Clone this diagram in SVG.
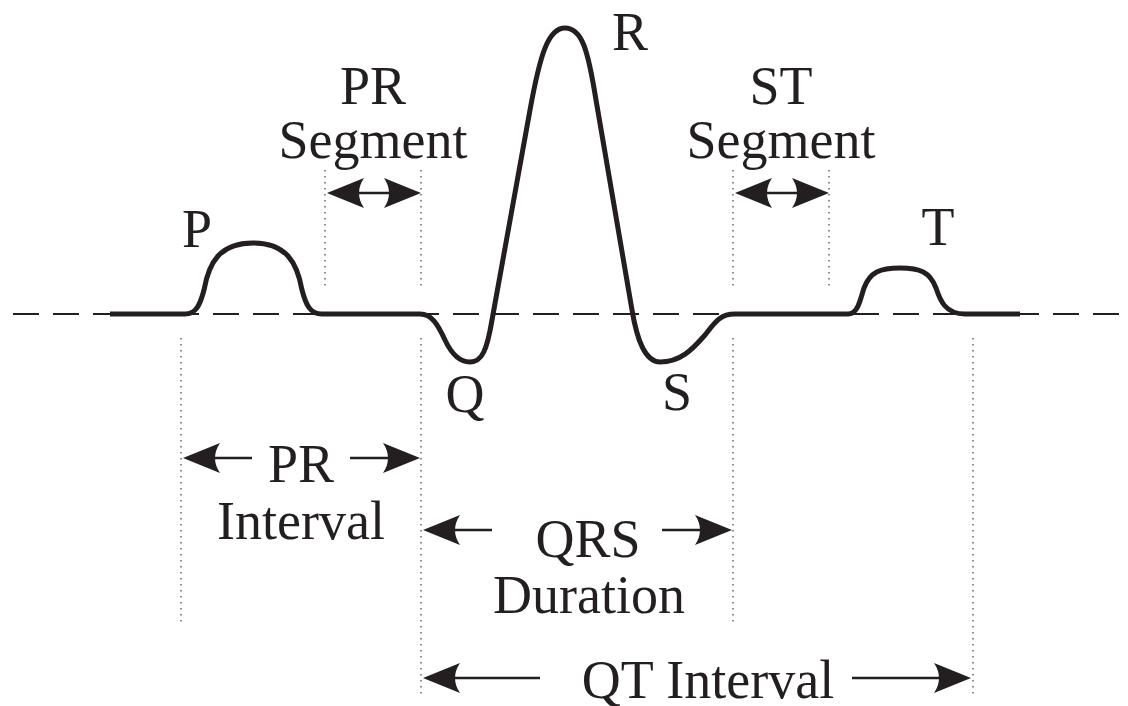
<svg xmlns="http://www.w3.org/2000/svg" xmlns:xlink="http://www.w3.org/1999/xlink" width="1128" height="706" viewBox="0 0 1128 706">
<style>
.lbl{font-family:"Liberation Serif","Times New Roman",serif;font-size:54px;fill:#231f20;text-anchor:middle}
.dot{stroke:#6d6e71;stroke-width:1.6;stroke-dasharray:1.6 4.4;fill:none}
.dash{stroke:#231f20;stroke-width:2.2;stroke-dasharray:26 14;fill:none}
.wave{stroke:#231f20;stroke-width:5;fill:none;stroke-linejoin:round;stroke-linecap:butt}
.shaft{stroke:#231f20;stroke-width:2.6;fill:none}
.head{fill:#231f20}
</style>
<defs>
<path id="ah" d="M0,0 L-37,-15 Q-27,0 -37,15 Z"/>
</defs>
<rect width="1128" height="706" fill="#ffffff"/>
<g id="baseline">
<line class="dash" x1="13" y1="314" x2="1128" y2="314"/>
</g>
<g id="guides">
<line class="dot" x1="325" y1="170" x2="325" y2="286"/>
<line class="dot" x1="421" y1="170" x2="421" y2="286"/>
<line class="dot" x1="733" y1="170" x2="733" y2="286"/>
<line class="dot" x1="829" y1="170" x2="829" y2="286"/>
<line class="dot" x1="181" y1="338" x2="181" y2="624"/>
<line class="dot" x1="421" y1="338" x2="421" y2="696"/>
<line class="dot" x1="733" y1="338" x2="733" y2="624"/>
<line class="dot" x1="973" y1="338" x2="973" y2="696"/>
</g>
<g id="ecg-wave">
<path class="wave" d="M110,314 L185,314 C196,314 200,305 204,290 C209,262 220,243 253,243 C286,243 297,262 302,290 C306,305 310,314 322,314 L420,314 C432,314 438,325 445,340 C452,355 460,362 470,362 C482,362 487,350 492,320 L530,110 C540,55 548,28 565,28 C582,28 588,50 596,100 L632,310 C637,340 645,362 660,362 C680,362 692,350 705,335 C715,322 720,314 735,314 L848,314 C858,314 860,300 864,288 C870,272 880,268 900,268 C920,268 930,272 936,288 C940,300 945,314 965,314 L1020,314"/>
</g>
<g id="connectors">
<line class="shaft" x1="355" y1="193" x2="392" y2="193"/>
<use xlink:href="#ah" class="head" transform="translate(327,193) rotate(180)"/>
<use xlink:href="#ah" class="head" transform="translate(421,193)"/>
<line class="shaft" x1="763" y1="193" x2="800" y2="193"/>
<use xlink:href="#ah" class="head" transform="translate(735,193) rotate(180)"/>
<use xlink:href="#ah" class="head" transform="translate(829,193)"/>
<line class="shaft" x1="210" y1="458" x2="252" y2="458"/>
<use xlink:href="#ah" class="head" transform="translate(183,458) rotate(180)"/>
<line class="shaft" x1="350" y1="458" x2="392" y2="458"/>
<use xlink:href="#ah" class="head" transform="translate(420,458)"/>
<line class="shaft" x1="450" y1="530" x2="492" y2="530"/>
<use xlink:href="#ah" class="head" transform="translate(423,530) rotate(180)"/>
<line class="shaft" x1="662" y1="530" x2="704" y2="530"/>
<use xlink:href="#ah" class="head" transform="translate(732,530)"/>
<line class="shaft" x1="450" y1="678" x2="540" y2="678"/>
<use xlink:href="#ah" class="head" transform="translate(423,678) rotate(180)"/>
<line class="shaft" x1="852" y1="678" x2="944" y2="678"/>
<use xlink:href="#ah" class="head" transform="translate(971,678)"/>
</g>
<g id="label-P"><text class="lbl" x="197" y="247">P</text></g>
<g id="label-R"><text class="lbl" x="630" y="50">R</text></g>
<g id="label-Q"><text class="lbl" x="465" y="412">Q</text></g>
<g id="label-S"><text class="lbl" x="677" y="410">S</text></g>
<g id="label-T"><text class="lbl" x="938" y="245">T</text></g>
<g id="label-PR-segment"><text class="lbl" x="373" y="104">PR</text><text class="lbl" x="373" y="158">Segment</text></g>
<g id="label-ST-segment"><text class="lbl" x="781" y="104">ST</text><text class="lbl" x="781" y="158">Segment</text></g>
<g id="label-PR-interval"><text class="lbl" x="301" y="482">PR</text><text class="lbl" x="301" y="539">Interval</text></g>
<g id="label-QRS"><text class="lbl" x="588" y="557">QRS</text><text class="lbl" x="589" y="613">Duration</text></g>
<g id="label-QT"><text class="lbl" x="708" y="698">QT Interval</text></g>
</svg>
